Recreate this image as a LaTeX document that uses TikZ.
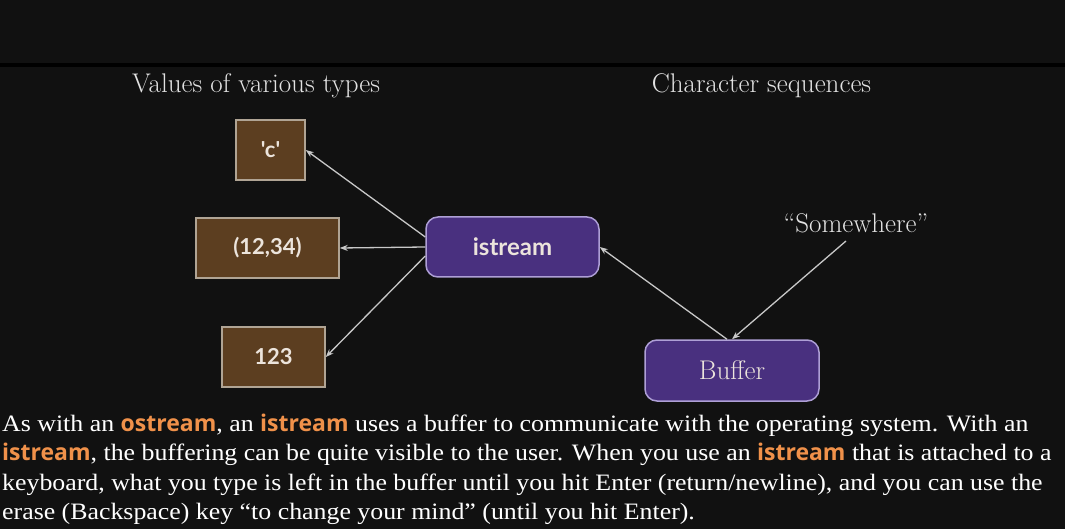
\documentclass[tikz,border=0pt]{standalone}
\usepackage{fontspec}
\usetikzlibrary{arrows.meta}
\newfontfamily\bodyfont{Liberation Serif}[FakeStretch=1.1]
\newfontfamily\hlfont{Open Sans}
\newfontfamily\labfont{Lato}
\definecolor{bg}{HTML}{111111}
\definecolor{brownfill}{HTML}{5C3E20}
\definecolor{brownline}{HTML}{B0A494}
\definecolor{purplefill}{HTML}{49307F}
\definecolor{purpleline}{HTML}{AE9FD6}
\definecolor{wire}{HTML}{C8C8C8}
\definecolor{labtext}{HTML}{ECE4DC}
\definecolor{titletext}{HTML}{E2E2E2}
\definecolor{hl}{HTML}{F0914A}
\newcommand{\hlw}[1]{{\hlfont\bfseries\fontsize{23}{26}\selectfont\color{hl}#1}}
\tikzset{
  valbox/.style={draw=brownline, line width=1.5pt, fill=brownfill, inner sep=0pt,
    text=labtext, font=\labfont\bfseries\fontsize{22}{24}\selectfont},
  streambox/.style={draw=purpleline, line width=1.5pt, fill=purplefill, inner sep=0pt,
    rounded corners=12pt, text=labtext},
  title/.style={text=titletext, anchor=base, inner sep=0pt, font=\fontsize{27}{30}\selectfont},
  bodyline/.style={text=white, anchor=base west, inner sep=0pt, font=\bodyfont\fontsize{23.5}{26}\selectfont},
  wirearrow/.style={draw=wire, line width=1.3pt, -{Stealth[length=8pt,width=6pt]}},
}
\begin{document}
\begin{tikzpicture}[x=1pt,y=-1pt]
\fill[bg] (0,0) rectangle (1065,529);
\useasboundingbox (0,0) rectangle (1065,529);
\fill[black] (0,63) rectangle (1065,67);

\node[title] (t1) at (256,93) {Values of various types};
\node[title] (t2) at (761.5,93) {Character sequences};
\node[title] (sw) at (856,233) {“Somewhere”};
\coordinate (swend) at (846,241);

\node[valbox, minimum width=69pt, minimum height=60pt] (c) at (270.5,150) {'c'};
\node[valbox, minimum width=143pt, minimum height=60pt] (p) at (267.5,248) {(12,34)};
\node[valbox, minimum width=103pt, minimum height=60pt] (n) at (273.5,357) {123};

\node[streambox, minimum width=173pt, minimum height=60pt,
  font=\labfont\bfseries\fontsize{24}{26}\selectfont] (is) at (512.5,247) {istream};
\node[streambox, minimum width=174pt, minimum height=61pt,
  font=\fontsize{27}{29}\selectfont] (buf) at (732,370.5) {Buffer};

\draw[wirearrow] ([yshift=10pt]is.west) -- (c.east);
\draw[wirearrow] (is.west) -- (p.east);
\draw[wirearrow] ([yshift=-9pt]is.west) -- (n.east);
\draw[wirearrow] ([xshift=-5pt]buf.north) -- (is.east);
\draw[wirearrow] (swend) -- (buf.north);

\node[bodyline] (l1) at (2,431) {As with an \hlw{ostream}, an \hlw{istream} uses a buffer to communicate with the operating system. With an};
\node[bodyline] (l2) at (2,460.5) {\hlw{istream}, the buffering can be quite visible to the user. When you use an \hlw{istream} that is attached to a};
\node[bodyline] (l3) at (2,490) {keyboard, what you type is left in the buffer until you hit Enter (return/newline), and you can use the};
\node[bodyline] (l4) at (2,519.5) {erase (Backspace) key “to change your mind” (until you hit Enter).};
\end{tikzpicture}
\end{document}
